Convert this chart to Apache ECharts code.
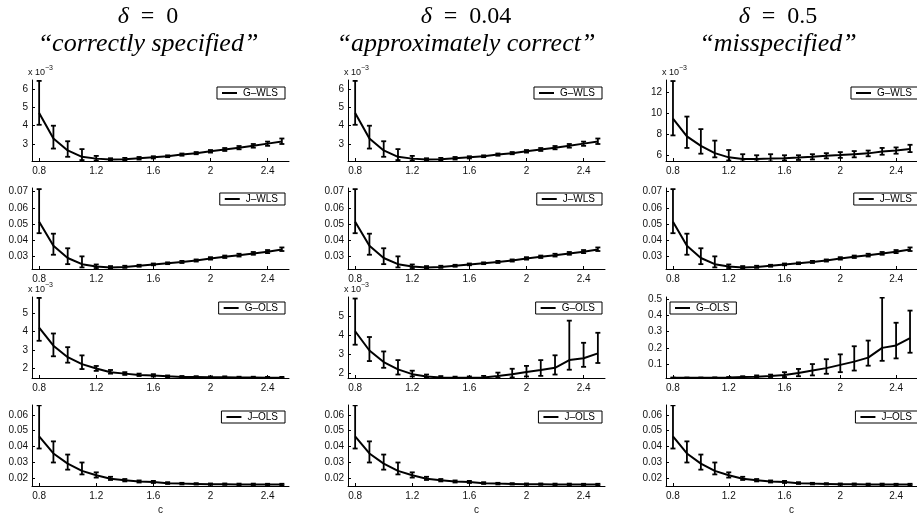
<!DOCTYPE html>
<html>
<head>
<meta charset="utf-8">
<script src="https://cdn.jsdelivr.net/npm/echarts@6/dist/echarts.min.js"></script>
<style>
  html, body { margin: 0; padding: 0; background: #fff; }
  #container { width: 917px; height: 516px; }
</style>
</head>
<body>
<div id="container"></div>
<script>
// c values shared by every panel
const cValues = [0.8, 0.9, 1.0, 1.1, 1.2, 1.3, 1.4, 1.5, 1.6, 1.7, 1.8, 1.9, 2.0, 2.1, 2.2, 2.3, 2.4, 2.5];
const xTicks = [0.8, 1.2, 1.6, 2, 2.4];

// G-WLS, delta = 0 and 0.04 (units of 1e-3)
const gWlsMean = [4.7, 3.3, 2.65, 2.3, 2.2, 2.15, 2.17, 2.22, 2.27, 2.33, 2.42, 2.5, 2.6, 2.7, 2.8, 2.9, 3.02, 3.14];
const gWlsLow  = [4.05, 2.75, 2.3, 2.12, 2.1, 2.08, 2.1, 2.15, 2.21, 2.28, 2.36, 2.44, 2.53, 2.62, 2.71, 2.8, 2.9, 3.0];
const gWlsHigh = [6.45, 4.0, 3.15, 2.72, 2.35, 2.22, 2.24, 2.29, 2.33, 2.38, 2.48, 2.56, 2.67, 2.78, 2.89, 3.0, 3.13, 3.3];
const gWlsTicks = [3, 4, 5, 6];

// G-WLS, delta = 0.5 (units of 1e-3)
const gWlsMisMean = [9.5, 7.8, 6.9, 6.2, 5.8, 5.65, 5.65, 5.68, 5.72, 5.78, 5.85, 5.95, 6.02, 6.1, 6.18, 6.35, 6.45, 6.6];
const gWlsMisLow  = [7.9, 6.7, 6.15, 5.8, 5.5, 5.4, 5.4, 5.4, 5.5, 5.55, 5.6, 5.7, 5.75, 5.8, 5.9, 6.05, 6.15, 6.3];
const gWlsMisHigh = [13.1, 9.7, 8.5, 7.4, 6.5, 6.1, 6.0, 6.1, 6.0, 6.0, 6.1, 6.2, 6.3, 6.4, 6.45, 6.7, 6.75, 7.0];
const gWlsMisTicks = [6, 8, 10, 12];

// J-WLS (all deltas)
const jWlsMean = [0.0514, 0.0365, 0.029, 0.0252, 0.0238, 0.0232, 0.0235, 0.0242, 0.025, 0.0257, 0.0265, 0.0274, 0.0287, 0.0297, 0.0307, 0.0318, 0.0329, 0.0343];
const jWlsLow  = [0.0443, 0.031, 0.0252, 0.0232, 0.0228, 0.0226, 0.0229, 0.0236, 0.0245, 0.0252, 0.0259, 0.0268, 0.028, 0.029, 0.0299, 0.031, 0.032, 0.0333];
const jWlsHigh = [0.0715, 0.044, 0.035, 0.03, 0.025, 0.024, 0.0242, 0.0248, 0.0256, 0.0263, 0.0272, 0.0281, 0.0295, 0.0305, 0.0316, 0.0327, 0.0339, 0.0355];
const jWlsTicks = [0.03, 0.04, 0.05, 0.06, 0.07];

// G-OLS, delta = 0 (units of 1e-3)
const gOlsMean = [4.22, 3.23, 2.6, 2.22, 1.98, 1.78, 1.7, 1.63, 1.6, 1.55, 1.52, 1.52, 1.5, 1.5, 1.49, 1.49, 1.48, 1.48];
const gOlsLow  = [3.5, 2.65, 2.3, 1.95, 1.85, 1.7, 1.63, 1.57, 1.54, 1.5, 1.48, 1.48, 1.46, 1.46, 1.46, 1.46, 1.45, 1.45];
const gOlsHigh = [5.85, 3.9, 3.15, 2.7, 2.12, 1.9, 1.78, 1.7, 1.67, 1.6, 1.57, 1.56, 1.55, 1.55, 1.53, 1.53, 1.52, 1.52];
const gOlsTicks = [2, 3, 4, 5];

// G-OLS, delta = 0.04 (units of 1e-3)
const gOlsApxMean = [4.2, 3.2, 2.6, 2.22, 1.97, 1.85, 1.8, 1.78, 1.78, 1.8, 1.88, 1.97, 2.08, 2.18, 2.3, 2.7, 2.8, 3.05];
const gOlsApxLow  = [3.5, 2.65, 2.3, 1.95, 1.85, 1.78, 1.75, 1.74, 1.74, 1.75, 1.78, 1.8, 1.85, 1.88, 1.95, 2.2, 2.35, 2.55];
const gOlsApxHigh = [5.9, 3.9, 3.15, 2.7, 2.15, 1.95, 1.87, 1.84, 1.85, 1.88, 2.05, 2.25, 2.4, 2.7, 2.95, 4.75, 3.6, 4.12];

// G-OLS, delta = 0.5
const gOlsMisMean = [0.015, 0.015, 0.015, 0.016, 0.017, 0.02, 0.022, 0.027, 0.033, 0.045, 0.06, 0.075, 0.095, 0.115, 0.14, 0.2, 0.215, 0.26];
const gOlsMisLow  = [0.013, 0.013, 0.013, 0.014, 0.015, 0.016, 0.017, 0.02, 0.02, 0.025, 0.03, 0.04, 0.05, 0.06, 0.09, 0.12, 0.135, 0.17];
const gOlsMisHigh = [0.017, 0.017, 0.017, 0.018, 0.02, 0.025, 0.03, 0.035, 0.05, 0.07, 0.1, 0.13, 0.16, 0.21, 0.245, 0.51, 0.355, 0.43];
const gOlsMisTicks = [0.1, 0.2, 0.3, 0.4, 0.5];

// J-OLS (all deltas)
const jOlsMean = [0.0464, 0.0357, 0.0293, 0.0247, 0.022, 0.0198, 0.0188, 0.018, 0.0177, 0.017, 0.0167, 0.0165, 0.0163, 0.0163, 0.0162, 0.0162, 0.0162, 0.0161];
const jOlsLow  = [0.0388, 0.03, 0.0255, 0.0225, 0.0205, 0.019, 0.0181, 0.0174, 0.0171, 0.0165, 0.0162, 0.0161, 0.0159, 0.0159, 0.0158, 0.0158, 0.0158, 0.0157];
const jOlsHigh = [0.066, 0.0433, 0.035, 0.03, 0.0238, 0.021, 0.0196, 0.0187, 0.0184, 0.0176, 0.0172, 0.017, 0.0168, 0.0168, 0.0167, 0.0167, 0.0166, 0.0166];
const jOlsTicks = [0.02, 0.03, 0.04, 0.05, 0.06];

const columnTitles = ['0', '0.04', '0.5'];
const columnSubtitles = ['\u201Ccorrectly specified\u201D', '\u201Capproximately correct\u201D', '\u201Cmisspecified\u201D'];

// layout
const colLeft = [32, 348, 666];
const colCenter = [148, 466, 778];
const rowTop = [80, 188, 297, 405];
const plotW = 257, plotH = 81;
const legendTop = [87, 193, 302, 411];
const legendRight = [632, 315, -2];

const sans = 'Liberation Sans, Arial, Helvetica, sans-serif';
const serif = 'Liberation Serif, Times New Roman, serif';

const panels = [
  // row 0: G-WLS
  { row: 0, col: 0, name: 'G\u2013WLS', mean: gWlsMean, low: gWlsLow, high: gWlsHigh, yMin: 2.07, yMax: 6.5, ticks: gWlsTicks, exp: true },
  { row: 0, col: 1, name: 'G\u2013WLS', mean: gWlsMean, low: gWlsLow, high: gWlsHigh, yMin: 2.07, yMax: 6.5, ticks: gWlsTicks, exp: true },
  { row: 0, col: 2, name: 'G\u2013WLS', mean: gWlsMisMean, low: gWlsMisLow, high: gWlsMisHigh, yMin: 5.45, yMax: 13.2, ticks: gWlsMisTicks, exp: true },
  // row 1: J-WLS
  { row: 1, col: 0, name: 'J\u2013WLS', mean: jWlsMean, low: jWlsLow, high: jWlsHigh, yMin: 0.0222, yMax: 0.0722, ticks: jWlsTicks },
  { row: 1, col: 1, name: 'J\u2013WLS', mean: jWlsMean, low: jWlsLow, high: jWlsHigh, yMin: 0.0222, yMax: 0.0722, ticks: jWlsTicks },
  { row: 1, col: 2, name: 'J\u2013WLS', mean: jWlsMean, low: jWlsLow, high: jWlsHigh, yMin: 0.0222, yMax: 0.0722, ticks: jWlsTicks },
  // row 2: G-OLS
  { row: 2, col: 0, name: 'G\u2013OLS', mean: gOlsMean, low: gOlsLow, high: gOlsHigh, yMin: 1.46, yMax: 5.9, ticks: gOlsTicks, exp: true },
  { row: 2, col: 1, name: 'G\u2013OLS', mean: gOlsApxMean, low: gOlsApxLow, high: gOlsApxHigh, yMin: 1.77, yMax: 5.98, ticks: gOlsTicks, exp: true },
  { row: 2, col: 2, name: 'G\u2013OLS', mean: gOlsMisMean, low: gOlsMisLow, high: gOlsMisHigh, yMin: 0.014, yMax: 0.514, ticks: gOlsMisTicks, legendLeft: 670 },
  // row 3: J-OLS
  { row: 3, col: 0, name: 'J\u2013OLS', mean: jOlsMean, low: jOlsLow, high: jOlsHigh, yMin: 0.0152, yMax: 0.0662, ticks: jOlsTicks },
  { row: 3, col: 1, name: 'J\u2013OLS', mean: jOlsMean, low: jOlsLow, high: jOlsHigh, yMin: 0.0152, yMax: 0.0662, ticks: jOlsTicks },
  { row: 3, col: 2, name: 'J\u2013OLS', mean: jOlsMean, low: jOlsLow, high: jOlsHigh, yMin: 0.0152, yMax: 0.0662, ticks: jOlsTicks }
];

function errorBar(params, api) {
  const x = api.value(0);
  const lo = api.coord([x, api.value(1)]);
  const hi = api.coord([x, api.value(2)]);
  const w = 2.5;
  const style = { stroke: '#000', lineWidth: 1.8 };
  return {
    type: 'group',
    children: [
      { type: 'line', shape: { x1: lo[0], y1: lo[1], x2: hi[0], y2: hi[1] }, style: style },
      { type: 'line', shape: { x1: lo[0] - w, y1: lo[1], x2: lo[0] + w, y2: lo[1] }, style: style },
      { type: 'line', shape: { x1: hi[0] - w, y1: hi[1], x2: hi[0] + w, y2: hi[1] }, style: style }
    ]
  };
}

const grid = [], xAxis = [], yAxis = [], series = [], legend = [], title = [];

panels.forEach((p, i) => {
  grid.push({ left: colLeft[p.col], top: rowTop[p.row], width: plotW, height: plotH });
  xAxis.push({
    gridIndex: i, type: 'value', min: 0.75, max: 2.55,
    name: p.row === 3 ? 'c' : '',
    nameLocation: 'middle', nameGap: 19,
    nameTextStyle: { fontSize: 10, color: '#111', fontFamily: sans },
    axisLine: { onZero: false, lineStyle: { color: '#000', width: 1 } },
    axisTick: { inside: true, length: 3, customValues: xTicks, lineStyle: { color: '#000' } },
    axisLabel: { customValues: xTicks, fontSize: 10, color: '#111', margin: 5, fontFamily: sans },
    splitLine: { show: false }
  });
  yAxis.push({
    gridIndex: i, type: 'value', min: p.yMin, max: p.yMax,
    name: p.exp ? '{a|x 10}{b|\u22123}' : '',
    nameLocation: 'end', nameGap: 3,
    nameTextStyle: {
      align: 'left', padding: [0, 0, 0, -4],
      rich: {
        a: { fontSize: 9, lineHeight: 10, verticalAlign: 'bottom', fontFamily: sans, color: '#111' },
        b: { fontSize: 7, lineHeight: 7, padding: [0, 0, 5, 0], verticalAlign: 'bottom', fontFamily: sans, color: '#111' }
      }
    },
    axisLine: { show: true, onZero: false, lineStyle: { color: '#000', width: 1 } },
    axisTick: { show: true, inside: true, length: 3, customValues: p.ticks, lineStyle: { color: '#000' } },
    axisLabel: { customValues: p.ticks, fontSize: 10, color: '#111', margin: 4, fontFamily: sans },
    splitLine: { show: false }
  });
  series.push({
    type: 'custom', name: p.name + ' error', xAxisIndex: i, yAxisIndex: i,
    data: cValues.map((c, k) => [c, p.low[k], p.high[k]]),
    encode: { x: 0, y: [1, 2] },
    renderItem: errorBar, clip: true, z: 2, silent: true
  });
  series.push({
    type: 'line', name: p.name, xAxisIndex: i, yAxisIndex: i,
    data: cValues.map((c, k) => [c, p.mean[k]]),
    symbol: 'none', showSymbol: false, clip: true, z: 3,
    lineStyle: { color: '#000', width: 2 }, itemStyle: { color: '#000' }
  });
  const lg = {
    data: [p.name], top: legendTop[p.row], orient: 'horizontal',
    icon: 'rect', itemWidth: 15, itemHeight: 2,
    borderColor: '#000', borderWidth: 1, backgroundColor: '#fff',
    padding: [1, 7, 1, 5], selectedMode: false,
    textStyle: { fontSize: 10, color: '#000', fontFamily: sans, padding: [0, 0, 0, 1] }
  };
  if (p.legendLeft !== undefined) lg.left = p.legendLeft; else lg.right = legendRight[p.col];
  legend.push(lg);
});

columnTitles.forEach((d, j) => {
  title.push({
    text: '{d|\u03B4}{e|\u2002=\u2002' + d + '}',
    left: colCenter[j], top: 5, padding: 0, textAlign: 'center',
    textStyle: {
      fontWeight: 'normal',
      rich: {
        d: { fontSize: 24, fontStyle: 'italic', fontWeight: 'normal', fontFamily: serif, color: '#000' },
        e: { fontSize: 24, fontWeight: 'normal', fontFamily: serif, color: '#000' }
      }
    }
  });
  title.push({
    text: columnSubtitles[j],
    left: colCenter[j], top: 31, padding: 0, textAlign: 'center',
    textStyle: { fontSize: 26, fontStyle: 'italic', fontWeight: 'normal', fontFamily: serif, color: '#000' }
  });
});

const chart = echarts.init(document.getElementById('container'), null, { renderer: 'canvas' });
chart.setOption({
  animation: false,
  backgroundColor: '#fff',
  title: title,
  grid: grid,
  xAxis: xAxis,
  yAxis: yAxis,
  legend: legend,
  series: series
});
</script>
</body>
</html>
